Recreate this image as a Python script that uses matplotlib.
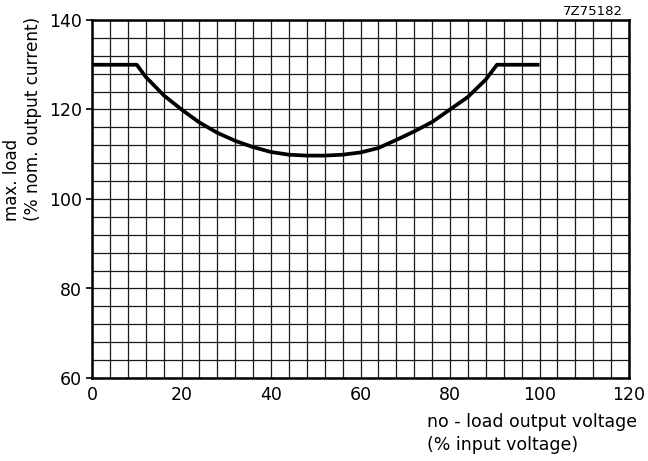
import matplotlib
matplotlib.use("Agg")
import matplotlib.pyplot as plt
import numpy as np

# Data
voltage = [0, 10, 12, 16, 20, 24, 28, 32, 36, 40, 44, 48, 50, 52, 56, 60,
           64, 68, 72, 76, 80, 84, 88, 90.5, 100]
max_load = [130, 130, 127.3, 123.2, 120, 117.1, 114.8, 113.0, 111.6, 110.5,
            109.9, 109.7, 109.7, 109.7, 109.9, 110.4, 111.4, 113.2, 115.1,
            117.2, 120, 122.8, 126.7, 130, 130]
x_ticks = [0, 20, 40, 60, 80, 100, 120]
y_ticks = [60, 80, 100, 120, 140]

plt.rcParams['font.family'] = ['DejaVu Sans']

fig = plt.figure(figsize=(6.48, 4.61), dpi=100)
ax = fig.add_axes([92/648, 1-378/461, (629-92)/648, (378-20)/461])

ax.set_xlim(0, 120)
ax.set_ylim(60, 140)
ax.set_xticks(x_ticks)
ax.set_yticks(y_ticks)
ax.set_xticks(np.arange(0, 121, 4), minor=True)
ax.set_yticks(np.arange(60, 141, 4), minor=True)
ax.grid(which='both', color='#1a1a1a', linewidth=0.9)
ax.set_axisbelow(True)
ax.tick_params(which='major', direction='out', length=4, width=1.2,
               labelsize=12.5, colors='black')
ax.tick_params(axis='x', which='major', length=0, pad=6)
ax.tick_params(axis='y', pad=3)
ax.tick_params(which='minor', length=0)
for s in ax.spines.values():
    s.set_linewidth(1.8)
    s.set_color('black')

ax.plot(voltage, max_load, color='black', linewidth=2.7,
        solid_joinstyle='round', solid_capstyle='butt')

fig.text(427/648, 1-427/461, "no - load output voltage", fontsize=12.5,
         ha='left', va='baseline')
fig.text(427/648, 1-450/461, "(% input voltage)", fontsize=12.5,
         ha='left', va='baseline')
fig.text(21/648, 1-221/461, "max. load", fontsize=12, rotation=90,
         ha='right', va='bottom')
fig.text(42/648, 1-221/461, "(% nom. output current)", fontsize=12.2,
         rotation=90, ha='right', va='bottom')
fig.text(623/648, 1-15/461, "7Z75182", fontsize=9.5, ha='right',
         va='baseline')

fig.savefig("out.png", dpi=100)
